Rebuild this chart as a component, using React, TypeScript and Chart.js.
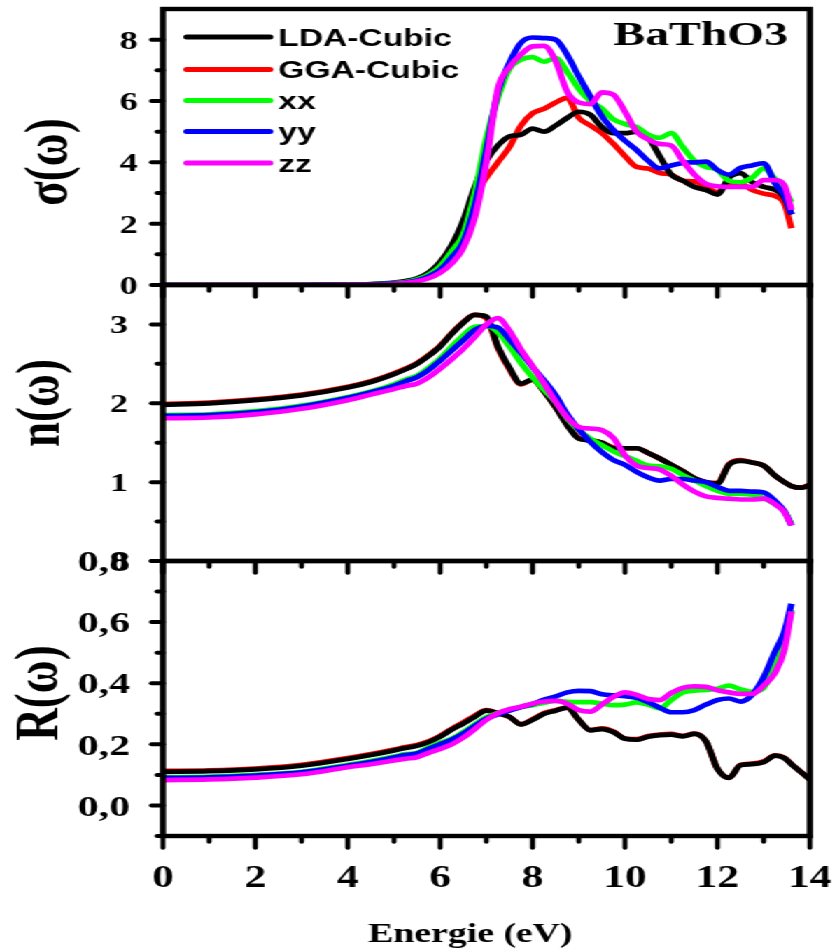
import React, { useEffect, useRef } from 'react';
import { Chart, registerables } from 'chart.js';
Chart.register(...registerables);

// ---------------- data ----------------
const energy = [0, 1, 2, 3, 4, 4.5, 5, 5.25, 5.5, 5.75, 6, 6.25, 6.5, 6.75, 7, 7.25, 7.5, 7.75, 8, 8.25, 8.5, 8.75, 9, 9.25, 9.5, 9.75, 10, 10.25, 10.5, 10.75, 11, 11.25, 11.5, 11.75, 12, 12.25, 12.5, 12.75, 13, 13.25, 13.45, 13.6, 13.8, 14];

const seriesNames = ['LDA-Cubic', 'GGA-Cubic', 'xx', 'yy', 'zz'];
const seriesColors = ['#000000', '#ff0000', '#00ff00', '#0000ff', '#ff00ff'];
const seriesOrder = [4, 5, 3, 2, 1];

const sigmaLDA = [0, 0, 0, 0, 0.01, 0.03, 0.08, 0.13, 0.22, 0.4, 0.75, 1.3, 2.1, 3.2, 4.05, 4.55, 4.85, 4.9, 5.1, 5.0, 5.2, 5.45, 5.65, 5.55, 5.15, 4.95, 4.95, 5.0, 4.8, 4.2, 3.6, 3.4, 3.2, 3.1, 2.95, 3.5, 3.65, 3.35, 3.2, 3.1, 2.85, 2.3, null, null];
const sigmaGGA = [0, 0, 0, 0, 0.01, 0.02, 0.06, 0.1, 0.18, 0.32, 0.6, 1.1, 1.9, 2.9, 3.5, 4.0, 4.5, 5.2, 5.6, 5.75, 5.95, 6.1, 5.45, 5.2, 4.95, 4.6, 4.2, 3.85, 3.8, 3.65, 3.6, 3.4, 3.38, 3.2, 3.03, 3.3, 3.3, 3.1, 2.98, 2.9, 2.65, 1.85, null, null];
const sigmaXX = [0, 0, 0, 0, 0.01, 0.02, 0.06, 0.1, 0.18, 0.33, 0.62, 1.1, 1.65, 3.0, 4.8, 6.1, 7.05, 7.35, 7.43, 7.28, 7.4, 6.95, 6.4, 6.0, 5.75, 5.4, 5.25, 5.15, 4.9, 4.8, 4.95, 4.5, 4.05, 3.85, 3.75, 3.4, 3.35, 3.5, 3.8, 3.45, 3.1, 2.7, null, null];
const sigmaYY = [0, 0, 0, 0, 0.01, 0.02, 0.05, 0.08, 0.15, 0.28, 0.5, 0.9, 1.4, 2.6, 4.4, 6.3, 7.25, 7.9, 8.07, 8.05, 8.0, 7.5, 6.8, 6.15, 5.5, 5.05, 4.7, 4.4, 4.05, 3.8, 3.9, 3.98, 4.0, 4.02, 3.75, 3.6, 3.82, 3.9, 3.97, 3.3, 2.9, 2.3, null, null];
const sigmaZZ = [0, 0, 0, 0, 0.01, 0.01, 0.04, 0.07, 0.12, 0.22, 0.4, 0.7, 1.2, 2.2, 4.0, 6.4, 7.1, 7.52, 7.78, 7.8, 7.3, 6.3, 5.95, 5.9, 6.28, 6.2, 5.65, 5.0, 4.75, 4.6, 4.55, 4.05, 3.6, 3.3, 3.22, 3.2, 3.2, 3.2, 3.42, 3.42, 3.25, 2.45, null, null];

const nLDA = [1.98, 2.0, 2.04, 2.1, 2.2, 2.27, 2.37, 2.43, 2.5, 2.6, 2.72, 2.88, 3.02, 3.12, 3.1, 2.72, 2.45, 2.25, 2.3, 2.15, 1.95, 1.72, 1.55, 1.53, 1.5, 1.43, 1.43, 1.43, 1.37, 1.3, 1.22, 1.14, 1.05, 1.0, 0.98, 1.22, 1.27, 1.25, 1.21, 1.08, 1.0, 0.95, 0.93, 0.96];
const nGGA = [1.99, 2.01, 2.05, 2.11, 2.21, 2.28, 2.38, 2.44, 2.51, 2.61, 2.73, 2.89, 3.03, 3.12, 3.08, 2.7, 2.43, 2.24, 2.3, 2.15, 1.95, 1.73, 1.56, 1.53, 1.5, 1.44, 1.43, 1.43, 1.37, 1.3, 1.22, 1.14, 1.05, 1.0, 0.99, 1.23, 1.28, 1.25, 1.21, 1.08, 1.0, 0.95, 0.93, 0.97];
const nXX = [1.85, 1.86, 1.9, 1.97, 2.08, 2.15, 2.24, 2.3, 2.35, 2.45, 2.57, 2.72, 2.86, 2.97, 2.98, 2.9, 2.72, 2.51, 2.33, 2.17, 2.02, 1.81, 1.66, 1.55, 1.47, 1.39, 1.33, 1.27, 1.21, 1.2, 1.17, 1.09, 1.02, 0.95, 0.89, 0.85, 0.85, 0.84, 0.8, 0.72, 0.63, 0.47, null, null];
const nYY = [1.84, 1.85, 1.89, 1.96, 2.07, 2.14, 2.22, 2.28, 2.33, 2.42, 2.54, 2.67, 2.8, 2.93, 2.98, 2.96, 2.81, 2.64, 2.46, 2.29, 2.1, 1.86, 1.67, 1.51, 1.38, 1.28, 1.22, 1.13, 1.06, 1.02, 1.04, 1.04, 1.02, 1.0, 0.94, 0.89, 0.89, 0.88, 0.87, 0.76, 0.63, 0.45, null, null];
const nZZ = [1.81, 1.82, 1.86, 1.93, 2.04, 2.11, 2.18, 2.22, 2.25, 2.33, 2.44, 2.56, 2.69, 2.84, 3.0, 3.08, 2.92, 2.68, 2.47, 2.25, 2.02, 1.82, 1.7, 1.68, 1.66, 1.56, 1.34, 1.21, 1.18, 1.16, 1.08, 0.97, 0.88, 0.82, 0.8, 0.79, 0.78, 0.78, 0.79, 0.72, 0.62, 0.45, null, null];

const rLDA = [0.11, 0.112, 0.118, 0.13, 0.152, 0.165, 0.18, 0.188, 0.195, 0.207, 0.225, 0.248, 0.268, 0.29, 0.31, 0.302, 0.29, 0.265, 0.28, 0.3, 0.31, 0.32, 0.28, 0.246, 0.25, 0.24, 0.218, 0.215, 0.225, 0.23, 0.232, 0.226, 0.234, 0.21, 0.12, 0.09, 0.132, 0.135, 0.142, 0.163, 0.155, 0.135, 0.11, 0.085];
const rGGA = [0.113, 0.115, 0.121, 0.133, 0.155, 0.168, 0.183, 0.191, 0.198, 0.21, 0.228, 0.251, 0.272, 0.294, 0.312, 0.302, 0.29, 0.266, 0.282, 0.302, 0.312, 0.32, 0.28, 0.247, 0.252, 0.242, 0.219, 0.217, 0.227, 0.232, 0.234, 0.228, 0.235, 0.21, 0.12, 0.091, 0.133, 0.137, 0.144, 0.164, 0.156, 0.136, 0.11, 0.085];
const rXX = [0.092, 0.094, 0.1, 0.11, 0.133, 0.145, 0.16, 0.168, 0.172, 0.19, 0.205, 0.218, 0.24, 0.265, 0.289, 0.302, 0.313, 0.322, 0.328, 0.336, 0.343, 0.339, 0.338, 0.338, 0.333, 0.328, 0.33, 0.337, 0.33, 0.318, 0.345, 0.37, 0.376, 0.378, 0.382, 0.392, 0.38, 0.372, 0.385, 0.455, 0.53, 0.64, null, null];
const rYY = [0.09, 0.092, 0.098, 0.108, 0.13, 0.142, 0.157, 0.165, 0.17, 0.185, 0.2, 0.215, 0.235, 0.26, 0.284, 0.298, 0.31, 0.322, 0.332, 0.346, 0.357, 0.37, 0.375, 0.374, 0.364, 0.36, 0.358, 0.352, 0.338, 0.32, 0.305, 0.305, 0.312, 0.33, 0.345, 0.35, 0.34, 0.362, 0.42, 0.505, 0.57, 0.66, null, null];
const rZZ = [0.083, 0.085, 0.091, 0.102, 0.125, 0.135, 0.147, 0.153, 0.158, 0.172, 0.185, 0.2, 0.222, 0.25, 0.28, 0.302, 0.315, 0.323, 0.333, 0.34, 0.342, 0.333, 0.312, 0.307, 0.33, 0.355, 0.37, 0.362, 0.348, 0.345, 0.368, 0.385, 0.39, 0.388, 0.377, 0.37, 0.365, 0.365, 0.392, 0.435, 0.51, 0.635, null, null];

const xTicks = [0, 2, 4, 6, 8, 10, 12, 14];
const xTickLabels = ['0', '2', '4', '6', '8', '10', '12', '14'];
const xMinorTicks = [1, 3, 5, 7, 9, 11, 13];

const sigmaTicks = [0, 2, 4, 6, 8];
const sigmaTickLabels = ['0', '2', '4', '6', '8'];
const sigmaMinorTicks = [1, 3, 5, 7];

const nTicks = [0, 1, 2, 3];
const nTickLabels = ['0', '1', '2', '3'];
const nMinorTicks = [0.5, 1.5, 2.5];

const rTicks = [0, 0.2, 0.4, 0.6, 0.8];
const rTickLabels = ['0,0', '0,2', '0,4', '0,6', '0,8'];
const rMinorTicks = [-0.1, 0.1, 0.3, 0.5, 0.7];

// ---------------- layout ----------------
const W = 598;
const SX = 837 / W;
const AXIS_LEFT = 116.4;
const AXIS_RIGHT = 578.6;

type Panel = {
  top: number; height: number; areaTop: number; areaBottom: number;
  yMin: number; yMax: number; yTicks: number[]; yLabels: string[]; yMinor: number[];
  yFont: number; yRight: number; title: string; titleX: number; titleY: number;
  series: (number | null)[][]; showX: boolean; legend: boolean;
};

const panels: Panel[] = [
  { top: 0, height: 300, areaTop: 9, areaBottom: 285, yMin: 0, yMax: 9, yTicks: sigmaTicks, yLabels: sigmaTickLabels, yMinor: sigmaMinorTicks, yFont: 26, yRight: 98.6, title: 'σ(ω)', titleX: 36, titleY: 162, series: [sigmaLDA, sigmaGGA, sigmaXX, sigmaYY, sigmaZZ], showX: false, legend: true },
  { top: 270, height: 305, areaTop: 15, areaBottom: 291, yMin: 0, yMax: 3.5, yTicks: nTicks, yLabels: nTickLabels, yMinor: nMinorTicks, yFont: 26, yRight: 91.6, title: 'n(ω)', titleX: 30.4, titleY: 133, series: [nLDA, nGGA, nXX, nYY, nZZ], showX: false, legend: false },
  { top: 545, height: 407, areaTop: 16, areaBottom: 291, yMin: -0.1, yMax: 0.8, yTicks: rTicks, yLabels: rTickLabels, yMinor: rMinorTicks, yFont: 30, yRight: 93, title: 'R(ω)', titleX: 29.6, titleY: 148, series: [rLDA, rGGA, rXX, rYY, rZZ], showX: true, legend: false },
];

const SERIF = '"Liberation Serif", "Times New Roman", serif';
const SANS = '"Liberation Sans", Arial, sans-serif';

function makeDeco(p: Panel) {
  return {
    id: 'panelDeco',
    afterDraw(chart: any) {
      const { ctx, chartArea: a, scales } = chart;
      const xs = scales.x, ys = scales.y;
      const seg = (x1: number, y1: number, x2: number, y2: number) => {
        ctx.beginPath(); ctx.moveTo(x1, y1); ctx.lineTo(x2, y2); ctx.stroke();
      };
      ctx.save();
      ctx.strokeStyle = '#000';
      ctx.lineCap = 'round';
      ctx.lineWidth = 3.6;
      xTicks.forEach(v => { const px = xs.getPixelForValue(v); seg(px, a.bottom, px, a.bottom + 12); });
      xMinorTicks.forEach(v => { const px = xs.getPixelForValue(v); seg(px, a.bottom, px, a.bottom + 6); });
      ctx.lineWidth = 4;
      p.yTicks.forEach(v => { const py = ys.getPixelForValue(v); seg(a.left - 8, py, a.left, py); });
      p.yMinor.forEach(v => { const py = ys.getPixelForValue(v); seg(a.left - 4, py, a.left, py); });
      ctx.lineCap = 'butt';
      ctx.lineJoin = 'miter';
      ctx.lineWidth = 4.4;
      ctx.strokeRect(a.left, a.top, a.right - a.left, a.bottom - a.top);

      ctx.fillStyle = '#000';
      ctx.font = `bold ${p.yFont}px ${SERIF}`;
      ctx.textAlign = 'right';
      ctx.textBaseline = 'alphabetic';
      p.yTicks.forEach((v, i) => {
        const py = ys.getPixelForValue(v);
        ctx.fillText(p.yLabels[i], p.yRight, py + p.yFont * 0.34);
      });
      if (p.showX) {
        ctx.font = `bold 31px ${SERIF}`;
        ctx.textAlign = 'center';
        xTicks.forEach((v, i) => {
          const px = xs.getPixelForValue(v);
          ctx.fillText(xTickLabels[i], px, 887 - p.top);
        });
        ctx.font = `bold 27px ${SERIF}`;
        ctx.fillText('Energie (eV)', 336, 942 - p.top);
      }
      ctx.save();
      ctx.translate(p.titleX, p.titleY);
      ctx.rotate(-Math.PI / 2);
      ctx.font = `bold 45px ${SERIF}`;
      ctx.textAlign = 'center';
      ctx.textBaseline = 'middle';
      ctx.fillText(p.title, 0, 0);
      ctx.restore();

      if (p.legend) {
        const ly = [37, 69.5, 100.5, 131.5, 163];
        chart.data.datasets.forEach((ds: any, i: number) => {
          const y = ly[i];
          ctx.strokeStyle = ds.borderColor;
          ctx.lineWidth = 5;
          ctx.lineCap = 'round';
          seg(133.5, y, 192.8, y);
          ctx.fillStyle = '#000';
          ctx.font = `bold 24px ${SANS}`;
          ctx.textAlign = 'left';
          ctx.textBaseline = 'alphabetic';
          ctx.fillText(ds.label, 198.8, y + 8.5);
        });
        ctx.font = `bold 34px ${SERIF}`;
        ctx.textAlign = 'center';
        ctx.fillText('BaThO3', 500.7, 45);
      }
      ctx.restore();
    },
  };
}

function PanelChart({ p }: { p: Panel }) {
  const ref = useRef<HTMLCanvasElement | null>(null);
  useEffect(() => {
    if (!ref.current) return;
    const datasets = p.series.map((vals, i) => ({
      label: seriesNames[i],
      data: energy.map((e, j) => ({ x: e, y: vals[j] })).filter(d => d.y !== null),
      borderColor: seriesColors[i],
      backgroundColor: seriesColors[i],
      borderWidth: 4.7,
      pointRadius: 0,
      cubicInterpolationMode: 'monotone' as const,
      fill: false,
      order: seriesOrder[i],
    }));
    const chart = new Chart(ref.current, {
      type: 'line',
      data: { datasets },
      options: {
        responsive: false,
        maintainAspectRatio: false,
        animation: false,
        devicePixelRatio: 1,
        layout: { padding: { top: p.areaTop, left: AXIS_LEFT, right: W - AXIS_RIGHT, bottom: p.height - p.areaBottom } },
        plugins: { legend: { display: false }, tooltip: { enabled: false }, title: { display: false } },
        scales: {
          x: { type: 'linear', min: 0, max: 14, display: false },
          y: { type: 'linear', min: p.yMin, max: p.yMax, display: false },
        },
      } as any,
      plugins: [makeDeco(p)],
    });
    return () => chart.destroy();
  }, [p]);
  return (
    <canvas
      ref={ref}
      width={W}
      height={p.height}
      style={{ position: 'absolute', left: 0, top: p.top, width: W + 'px', height: p.height + 'px' }}
    />
  );
}

export default function App() {
  return (
    <div style={{ position: 'absolute', left: 0, top: 0, width: 837, height: 952, overflow: 'hidden', background: '#fff' }}>
      <div style={{ position: 'absolute', left: 0, top: 0, width: W, height: 952, transform: `scaleX(${SX})`, transformOrigin: '0 0' }}>
        {panels.map((p, i) => <PanelChart key={i} p={p} />)}
      </div>
    </div>
  );
}
